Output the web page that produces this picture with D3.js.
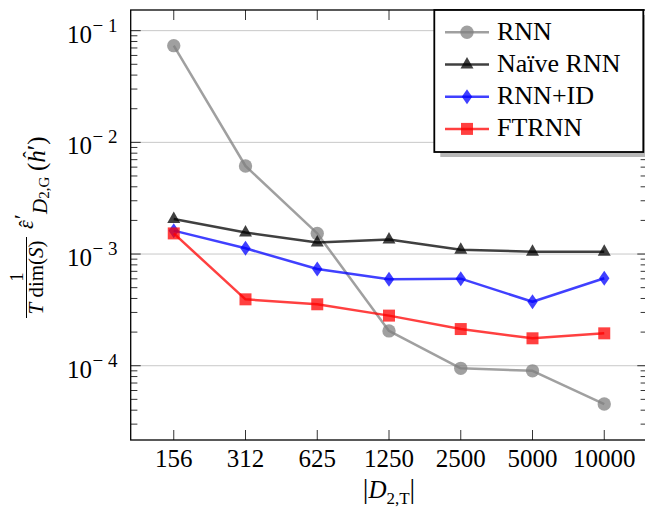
<!DOCTYPE html>
<html>
<head>
<meta charset="utf-8">
<script src="https://cdn.jsdelivr.net/npm/d3@7"></script>
<style>
  body { margin: 0; background: #fff; }
  svg { display: block; font-family: "Liberation Serif", "DejaVu Serif", serif; }
</style>
</head>
<body>
<script>
    var w = 645;
    var h = 511;

    // x positions are the dataset sizes, spaced evenly
    var sizes = ["156", "312", "625", "1250", "2500", "5000", "10000"];

    // normalised validation error per model
    var rnn      = [0.0734, 0.00614, 0.00153, 0.000205, 0.0000948, 0.0000900, 0.0000454];
    var naiveRnn = [0.00206, 0.00156, 0.00127, 0.00135, 0.00109, 0.00105, 0.00105];
    var rnnId    = [0.00162, 0.001125, 0.000735, 0.000594, 0.000602, 0.000374, 0.000607];
    var ftrnn    = [0.00153, 0.000393, 0.000355, 0.000281, 0.000213, 0.000176, 0.000195];

    var seriesNames = ["RNN", "Naïve RNN", "RNN+ID", "FTRNN"];
    var yMajor = [-1, -2, -3, -4];

    var series = [
        { name: seriesNames[0], values: rnn,      color: "#808080", mark: "circle" },
        { name: seriesNames[1], values: naiveRnn, color: "#000000", mark: "triangle" },
        { name: seriesNames[2], values: rnnId,    color: "#0000ff", mark: "diamond" },
        { name: seriesNames[3], values: ftrnn,    color: "#ff0000", mark: "square" }
    ];

    // plot box edges (window.top is reserved, so prefix them)
    var plotL = 130.7, plotR = 647.3, plotT = 10, plotB = 440;

    var svg = d3.select("body")
                .append("svg")
                .attr("width", w)
                .attr("height", h);

    var x = d3.scaleLinear()
              .domain([-0.6, sizes.length - 1 + 0.6])
              .range([plotL, plotR]);

    var y = d3.scaleLog()
              .domain([Math.pow(10, -4.665), Math.pow(10, -0.815)])
              .range([plotB, plotT]);

    // horizontal grid at each decade
    svg.append("g")
       .selectAll("line")
       .data(yMajor)
       .enter()
       .append("line")
       .attr("x1", plotL)
       .attr("x2", plotR)
       .attr("y1", d => y(Math.pow(10, d)))
       .attr("y2", d => y(Math.pow(10, d)))
       .attr("stroke", "#c8c8c8")
       .attr("stroke-width", 1);

    // minor ticks 2..9 inside every decade in view
    var minor = [];
    for (var e = -5; e <= -1; e++) {
        for (var m = 2; m <= 9; m++) {
            var v = m * Math.pow(10, e);
            if (v > y.domain()[0] && v < y.domain()[1]) minor.push(v);
        }
    }

    var ticks = svg.append("g")
                   .attr("stroke", "#000")
                   .attr("stroke-width", 0.8);

    minor.forEach(function(v) {
        ticks.append("line").attr("x1", plotL).attr("x2", plotL + 6.7).attr("y1", y(v)).attr("y2", y(v));
        ticks.append("line").attr("x1", plotR).attr("x2", plotR - 6.7).attr("y1", y(v)).attr("y2", y(v));
    });
    yMajor.forEach(function(d) {
        var yy = y(Math.pow(10, d));
        ticks.append("line").attr("x1", plotL).attr("x2", plotL + 10).attr("y1", yy).attr("y2", yy);
        ticks.append("line").attr("x1", plotR).attr("x2", plotR - 10).attr("y1", yy).attr("y2", yy);
    });
    sizes.forEach(function(s, i) {
        ticks.append("line").attr("x1", x(i)).attr("x2", x(i)).attr("y1", plotB).attr("y2", plotB - 10);
        ticks.append("line").attr("x1", x(i)).attr("x2", x(i)).attr("y1", plotT).attr("y2", plotT + 10);
    });

    // plot frame
    svg.append("rect")
       .attr("x", plotL)
       .attr("y", plotT)
       .attr("width", plotR - plotL)
       .attr("height", plotB - plotT)
       .attr("fill", "none")
       .attr("stroke", "#000")
       .attr("stroke-width", 1.3);

    // y tick labels as 10^k: base and exponent placed side by side
    var yLab = svg.append("g")
                  .selectAll("g")
                  .data(yMajor)
                  .enter()
                  .append("g");
    yLab.append("text")
        .attr("x", 92)
        .attr("y", d => y(Math.pow(10, d)) + 12)
        .attr("text-anchor", "end")
        .attr("font-size", 25)
        .text("10");
    yLab.append("text")
        .attr("x", 92.5)
        .attr("y", d => y(Math.pow(10, d)) + 1)
        .attr("font-size", 19)
        .attr("textLength", 25)
        .attr("lengthAdjust", "spacing")
        .text(d => "\u2212" + (-d));

    // x tick labels
    svg.append("g")
       .selectAll("text")
       .data(sizes)
       .enter()
       .append("text")
       .attr("x", (d, i) => x(i))
       .attr("y", 467.3)
       .attr("text-anchor", "middle")
       .attr("font-size", 25)
       .text(d => d);

    // x axis title |D_{2,T}|
    var xt = svg.append("text")
                .attr("x", 389)
                .attr("y", 498)
                .attr("text-anchor", "middle")
                .attr("font-size", 25);
    xt.append("tspan").attr("font-size", 28).text("|");
    xt.append("tspan").attr("font-style", "italic").text("D");
    xt.append("tspan").attr("font-size", 17).attr("dy", 6).text("2,T");
    xt.append("tspan").attr("dy", -6).attr("font-size", 28).text("|");

    // y axis title, rotated: 1/(T dim(S)) ε̂'_{D_{2,G}}(ĥ')
    var yt = svg.append("g").attr("transform", "rotate(-90)");
    yt.append("text")
      .attr("x", -277).attr("y", 23)
      .attr("text-anchor", "middle")
      .attr("font-size", 18)
      .text("1");
    yt.append("line")
      .attr("x1", -318).attr("x2", -237)
      .attr("y1", 26.5).attr("y2", 26.5)
      .attr("stroke", "#000").attr("stroke-width", 1);
    var den = yt.append("text")
                .attr("x", -277.5).attr("y", 43)
                .attr("text-anchor", "middle")
                .attr("font-size", 21);
    den.append("tspan").attr("font-style", "italic").text("T");
    den.append("tspan").text(" dim(");
    den.append("tspan").attr("font-style", "italic").text("S");
    den.append("tspan").text(")");

    yt.append("text")
      .attr("x", -229).attr("y", 33)
      .attr("font-size", 22)
      .attr("font-style", "italic")
      .text("\u03b5");
    yt.append("text")
      .attr("x", -227).attr("y", 34)
      .attr("font-size", 20)
      .text("\u02c6");
    yt.append("text")
      .attr("x", -219).attr("y", 29)
      .attr("font-size", 22)
      .text("\u2032");
    var sub = yt.append("text")
                .attr("x", -214).attr("y", 47)
                .attr("font-size", 21);
    sub.append("tspan").attr("font-style", "italic").text("D");
    sub.append("tspan").attr("font-size", 15).attr("dy", 2).text("2,G");

    var hh = yt.append("text")
               .attr("x", -171).attr("y", 45)
               .attr("font-size", 25);
    hh.append("tspan").text("(");
    hh.append("tspan").attr("font-style", "italic").text("h");
    hh.append("tspan").text("\u2032)");
    yt.append("text")
      .attr("x", -158).attr("y", 38)
      .attr("font-size", 20)
      .text("\u02c6");

    // marker shapes centred on the data point
    function markPath(type) {
        if (type === "circle") return d3.symbol().type(d3.symbolCircle).size(140)();
        if (type === "triangle") return "M0,-7.5L6.5,4L-6.5,4Z";
        if (type === "diamond") return "M0,-7.5L5.2,0L0,7.5L-5.2,0Z";
        return "M-6,-6H6V6H-6Z";
    }

    var line = d3.line()
                 .x((d, i) => x(i))
                 .y(d => y(d));

    series.forEach(function(s) {
        var g = svg.append("g");
        g.append("path")
         .attr("d", line(s.values))
         .attr("fill", "none")
         .attr("stroke", s.color)
         .attr("stroke-opacity", 0.75)
         .attr("stroke-width", 2.5)
         .attr("stroke-linejoin", "round");
        g.selectAll("path.mark")
         .data(s.values)
         .enter()
         .append("path")
         .attr("class", "mark")
         .attr("d", markPath(s.mark))
         .attr("transform", (d, i) => "translate(" + x(i) + "," + y(d) + ")")
         .attr("fill", s.color)
         .attr("fill-opacity", 0.75);
    });

    // legend with drop shadow
    var lx = 434.3, ly = 10, lw = 209, lh = 142;
    svg.append("rect")
       .attr("x", lx + 6).attr("y", ly + 5)
       .attr("width", lw).attr("height", lh)
       .attr("fill", "#b8b8b8");
    svg.append("rect")
       .attr("x", lx).attr("y", ly)
       .attr("width", lw).attr("height", lh)
       .attr("fill", "#fff")
       .attr("stroke", "#000")
       .attr("stroke-width", 1.8);

    var legend = svg.append("g")
                    .selectAll("g")
                    .data(series)
                    .enter()
                    .append("g")
                    .attr("transform", (d, i) => "translate(0," + (32.3 + i * 32.2) + ")");
    legend.append("line")
          .attr("x1", 445).attr("x2", 489)
          .attr("y1", 0).attr("y2", 0)
          .attr("stroke", d => d.color)
          .attr("stroke-opacity", 0.75)
          .attr("stroke-width", 2.5);
    legend.append("path")
          .attr("d", d => markPath(d.mark))
          .attr("transform", "translate(467,0)")
          .attr("fill", d => d.color)
          .attr("fill-opacity", 0.75);
    legend.append("text")
          .attr("x", 497)
          .attr("y", 7.5)
          .attr("font-size", 26)
          .text(d => d.name);
</script>
</body>
</html>
